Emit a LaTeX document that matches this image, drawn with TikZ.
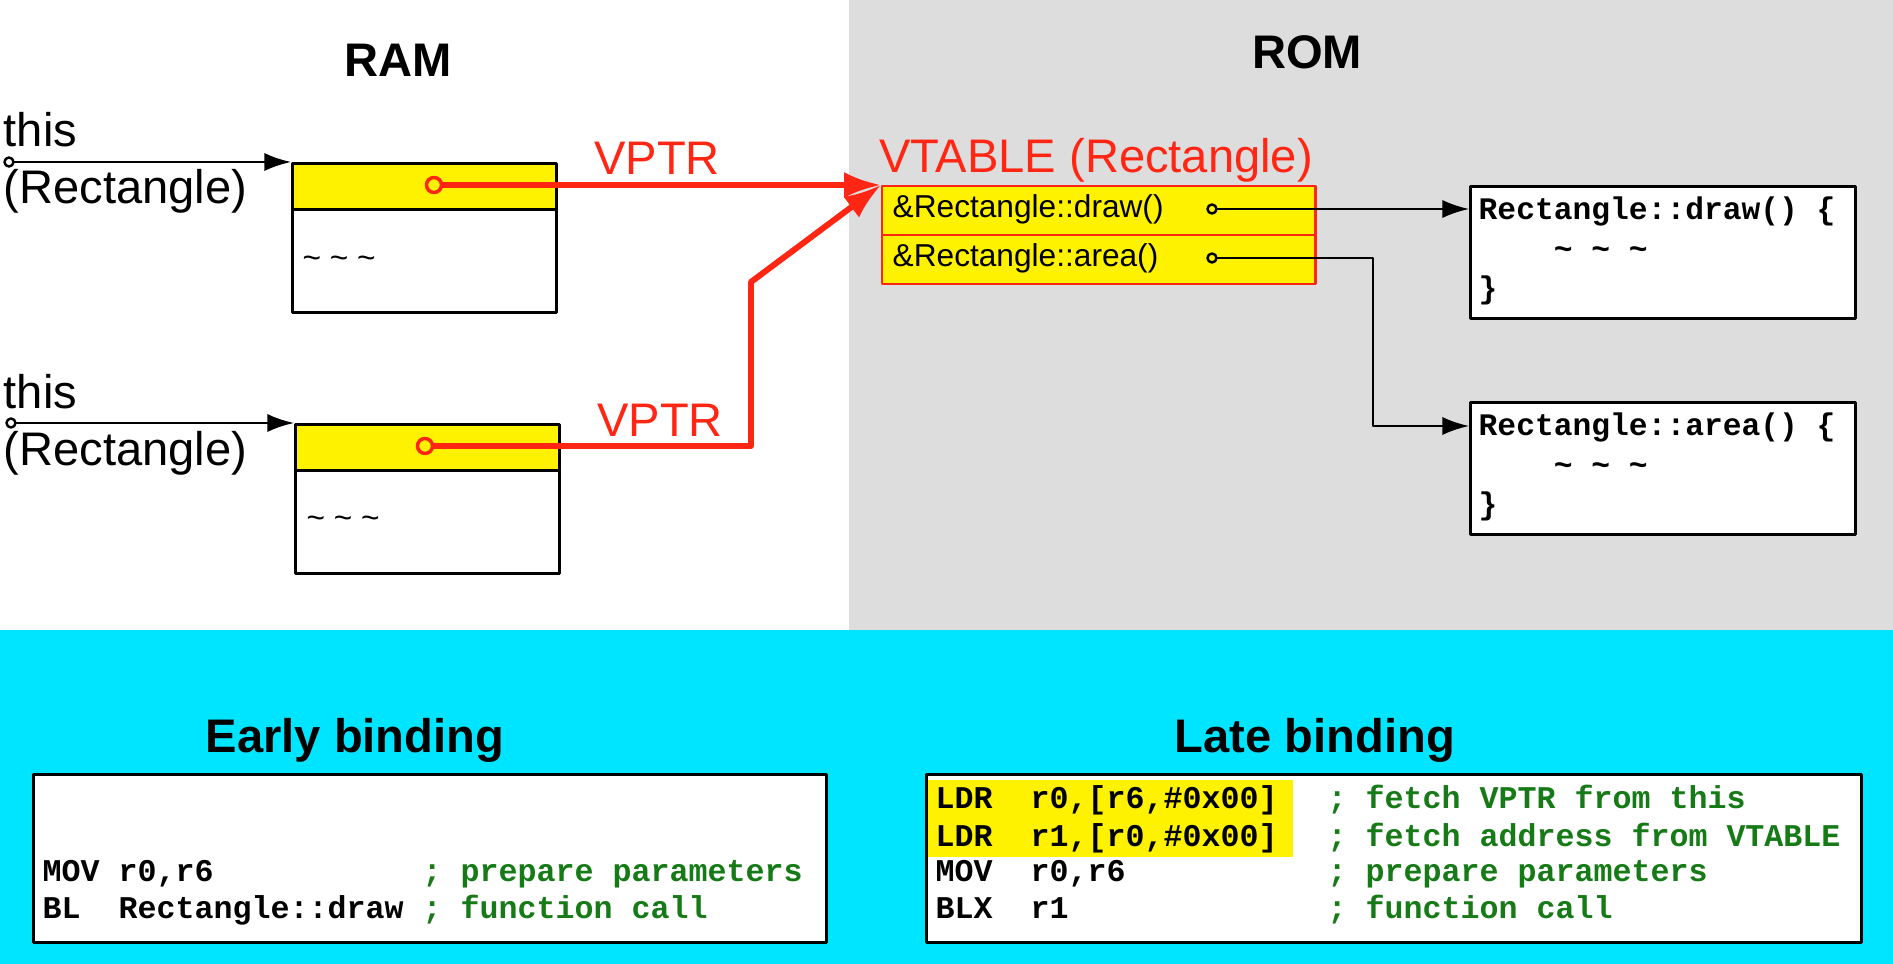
\documentclass[tikz,border=0pt]{standalone}
\usepackage{fontspec}
\setmainfont{Liberation Sans}
\setmonofont{Liberation Mono}
\usepackage{tikz}
\usetikzlibrary{arrows.meta}
\usetikzlibrary{positioning}
\definecolor{vyellow}{RGB}{255,242,0}
\definecolor{vred}{RGB}{255,38,20}
\definecolor{romgray}{RGB}{221,221,221}
\definecolor{bindcyan}{RGB}{0,229,255}
\definecolor{cmtgreen}{RGB}{22,122,22}
\tikzstyle{every node}=[inner sep=0pt]
\tikzstyle{every path}=[line cap=round,line join=round]
\tikzstyle{bigtxt}=[font=\fontsize{13.4}{16}\selectfont]
\tikzstyle{headtxt}=[font=\fontsize{13.4}{16}\selectfont\bfseries]
\tikzstyle{smalltxt}=[font=\fontsize{9}{11}\selectfont]
\tikzstyle{asmcode}=[font=\fontsize{9}{11.2}\selectfont\ttfamily\bfseries,anchor=west,text height=7pt,text depth=2pt]
\tikzstyle{cmt}=[asmcode,text=cmtgreen]
\tikzstyle{funccode}=[font=\fontsize{8.9}{11.2}\selectfont\ttfamily\bfseries,anchor=west,align=left]
\tikzstyle{objhead}=[draw,line width=0.85pt,fill=vyellow,minimum width=2.64cm,minimum height=0.46cm,anchor=north west]
\tikzstyle{objbody}=[draw,line width=0.85pt,fill=white,minimum width=2.64cm,minimum height=1.03cm,anchor=north west]
\tikzstyle{vtrow}=[draw=vred,line width=0.65pt,fill=vyellow,minimum width=4.33cm,minimum height=0.49cm,anchor=north west]
\tikzstyle{funcbox}=[draw,line width=0.85pt,fill=white,minimum width=3.85cm,minimum height=1.32cm,anchor=north west]
\tikzstyle{codebox}=[draw,line width=0.85pt,fill=white,minimum height=1.68cm,anchor=north west]
\tikzstyle{pinend}=[draw,line width=0.7pt,circle,minimum size=0.09cm]
\tikzstyle{vdot}=[draw=vred,line width=1pt,circle,minimum size=0.15cm]
\tikzstyle{ptr}=[line width=0.7pt,-{Latex[length=7.6pt,width=5.2pt]}]
\tikzstyle{vptr}=[draw=vred,line width=1.7pt,-{Latex[length=10.5pt,width=7.4pt]}]

\begin{document}
\begin{tikzpicture}[x=0.01cm,y=-0.01cm]
\useasboundingbox (0,0) rectangle (1893,964);
\fill[white] (0,0) rectangle (849,630);
\fill[romgray] (849,0) rectangle (1893,630);
\fill[bindcyan] (0,630) rectangle (1893,964);

\node[headtxt] (ram) at (398,60) {RAM};
\node[headtxt] (rom) at (1307,52) {ROM};

\node[bigtxt,anchor=west] (thisa) at (3,130) {this};
\node[bigtxt,anchor=west] (recta) at (3,191) {(Rectangle)};
\node[bigtxt,anchor=west] (thisb) at (3,392) {this};
\node[bigtxt,anchor=west] (rectb) at (3,453) {(Rectangle)};

\node[objhead] (heada) at (291,162) {};
\node[objbody] (bodya) at (291,208) {};
\node[smalltxt,anchor=west] (resta) at (302,262) {\textasciitilde\ \textasciitilde\ \textasciitilde};
\node[objhead] (headb) at (294,423) {};
\node[objbody] (bodyb) at (294,469) {};
\node[smalltxt,anchor=west] (restb) at (306,522) {\textasciitilde\ \textasciitilde\ \textasciitilde};

\node[pinend] (pina) at (9,162) {};
\node[pinend] (pinb) at (11,423) {};
\draw[ptr] (pina) -- (heada.north west);
\draw[ptr] (pinb) -- (headb.north west);

\node[vdot] (dota) at (434,185) {};
\node[vdot] (dotb) at (425,446) {};
\node[bigtxt,text=vred] (vptra) at (657,158) {VPTR};
\node[bigtxt,text=vred] (vptrb) at (660,420) {VPTR};

\node[bigtxt,text=vred] (vtab) at (1096,160) {VTABLE (Rectangle)};
\node[vtrow] (vtdraw) at (881,185) {};
\node[vtrow] (vtarea) at (881,234) {};
\node[smalltxt,anchor=west] (ldraw) at (892,209) {\&Rectangle::draw()};
\node[smalltxt,anchor=west] (larea) at (892,258) {\&Rectangle::area()};
\node[pinend] (cdraw) at (1212,209) {};
\node[pinend] (carea) at (1212,258) {};

\draw[vptr] (dota) -- (vtdraw.north west);
\coordinate (benda) at (751,446);
\coordinate (bendb) at (751,282);
\draw[vptr] (dotb) -- (benda) -- (bendb) -- (vtdraw.north west);

\node[funcbox] (fdraw) at (1469,185) {};
\node[funccode] (tdraw) at (1478,251) {Rectangle::draw() \{\\\phantom{0000}\textasciitilde\ \textasciitilde\ \textasciitilde\\\}};
\node[funcbox] (farea) at (1469,401) {};
\node[funccode] (tarea) at (1478,467) {Rectangle::area() \{\\\phantom{0000}\textasciitilde\ \textasciitilde\ \textasciitilde\\\}};

\draw[ptr] (cdraw) -- (cdraw -| fdraw.west);
\coordinate (bendc) at (1373,426);
\draw[ptr] (carea) -| (bendc) -- (bendc -| farea.west);

\node[headtxt] (early) at (355,740) {Early binding};
\node[headtxt] (late) at (1315,740) {Late binding};
\node[codebox,minimum width=7.93cm] (ebox) at (32,773) {};
\node[codebox,minimum width=9.34cm] (lbox) at (925,773) {};
\fill[vyellow] (928,780) rectangle (1293,857);

\node[asmcode] (emov) at (42,873) {MOV r0,r6};
\node[cmt] (emovc) at (422,873) {; prepare parameters};
\node[asmcode] (ebl) at (42,910) {BL~~Rectangle::draw};
\node[cmt] (eblc) at (422,910) {; function call};

\node[asmcode] (lldra) at (935,800) {LDR~~r0,[r6,\#0x00]};
\node[cmt] (lldrac) at (1327,800) {; fetch VPTR from this};
\node[asmcode] (lldrb) at (935,838) {LDR~~r1,[r0,\#0x00]};
\node[cmt] (lldrbc) at (1327,838) {; fetch address from VTABLE};
\node[asmcode] (lmov) at (935,873) {MOV~~r0,r6};
\node[cmt] (lmovc) at (1327,873) {; prepare parameters};
\node[asmcode] (lblx) at (935,910) {BLX~~r1};
\node[cmt] (lblxc) at (1327,910) {; function call};
\end{tikzpicture}
\end{document}
